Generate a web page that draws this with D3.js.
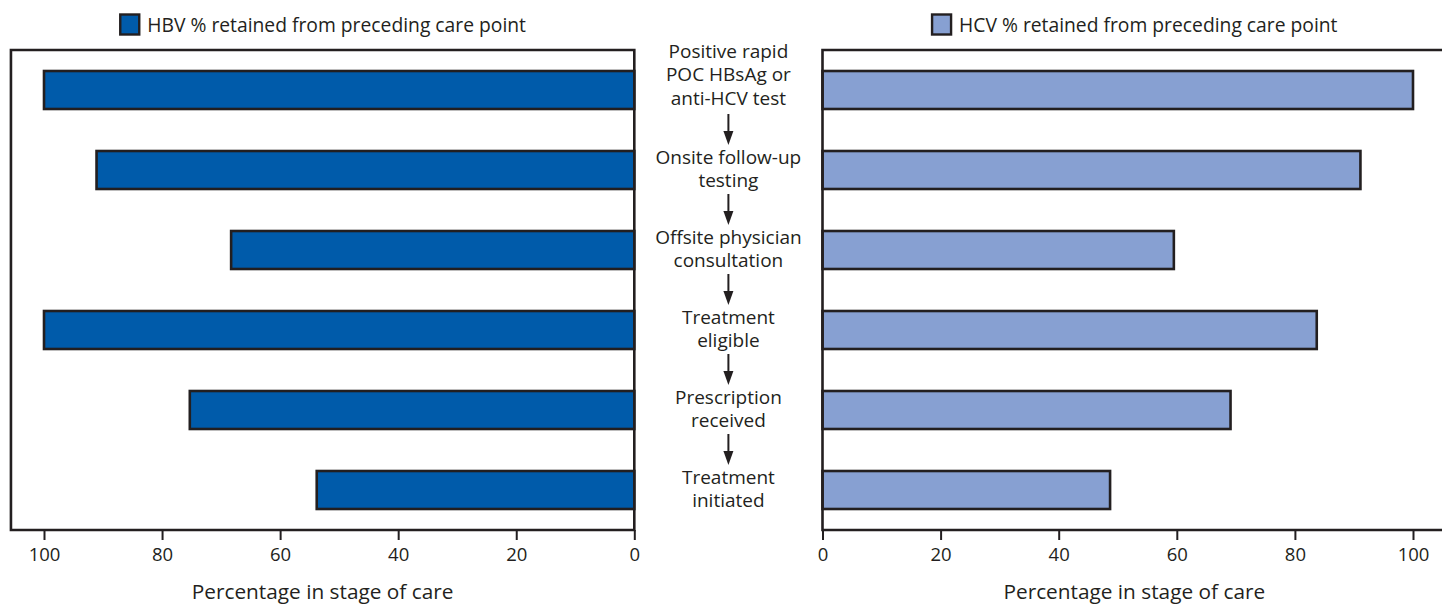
<!DOCTYPE html>
<html>
<head>
<meta charset="utf-8">
<script src="https://cdn.jsdelivr.net/npm/d3@7"></script>
<style>
  html, body { margin: 0; padding: 0; background: #fff; overflow: hidden; }
  svg { display: block; }
  text { font-family: "Open Sans", "Noto Sans", sans-serif; fill: #231f20; }
</style>
</head>
<body>
<svg id="chart" width="1442" height="607"></svg>
<script>
// ---- data ----
const stages = [
  ["Positive rapid", "POC HBsAg or", "anti-HCV test"],
  ["Onsite follow-up", "testing"],
  ["Offsite physician", "consultation"],
  ["Treatment", "eligible"],
  ["Prescription", "received"],
  ["Treatment", "initiated"]
];
const hbvValues = [100, 91.1, 68.3, 100, 75.3, 53.8];
const hcvValues = [100, 91.1, 59.5, 83.7, 69.1, 48.7];
const tickValues = [0, 20, 40, 60, 80, 100];
const hbvLegend = "HBV % retained from preceding care point";
const hcvLegend = "HCV % retained from preceding care point";
const axisTitle = "Percentage in stage of care";

// ---- layout ----
const ink = "#231f20";
const hbvColor = "#005baa";
const hcvColor = "#87a0d2";
const plotTop = 50, plotBottom = 530;
const frameMax = 105.6;

const svg = d3.select("#chart");
const ids = stages.map((d, i) => i);
const y = d3.scaleBand().domain(ids).range([plotTop, plotBottom]).paddingInner(0.5).paddingOuter(0.25);

const xL = d3.scaleLinear().domain([0, 100]).range([634.3, 44]);
const xR = d3.scaleLinear().domain([0, 100]).range([822.5, 1413]);

function panel(x, values, color, legendText, closedOuter) {
  const g = svg.append("g");
  const xZero = x(0), xOuter = x(frameMax);
  // bars
  g.selectAll("rect.bar").data(values).enter().append("rect")
    .attr("class", "bar")
    .attr("x", d => Math.min(x(0), x(d)))
    .attr("width", d => Math.abs(x(d) - x(0)))
    .attr("y", (d, i) => y(i) + 1)
    .attr("height", y.bandwidth() - 2)
    .attr("fill", color)
    .attr("stroke", ink)
    .attr("stroke-width", 2.6);
  // frame
  const p = d3.path();
  p.moveTo(xOuter, plotTop);
  p.lineTo(xZero, plotTop);
  p.lineTo(xZero, plotBottom);
  p.lineTo(xOuter, plotBottom);
  if (closedOuter) p.closePath();
  g.append("path").attr("d", p.toString())
    .attr("fill", "none").attr("stroke", ink).attr("stroke-width", 2.6)
    .attr("stroke-linejoin", "miter");
  // axis
  const ax = g.append("g").attr("transform", `translate(0,${plotBottom})`)
    .call(d3.axisBottom(x).tickValues(tickValues).tickSize(10).tickPadding(8).tickFormat(d3.format("d")));
  ax.select(".domain").remove();
  ax.selectAll(".tick line").attr("stroke", ink).attr("stroke-width", 2);
  ax.selectAll(".tick text").attr("fill", ink).style("font-size", "18.5px")
    .style("font-family", '"Open Sans", sans-serif');
  // axis title
  const cx = (xZero + xOuter) / 2;
  g.append("text").attr("x", cx).attr("y", 599).attr("text-anchor", "middle")
    .style("font-size", "20.8px").text(axisTitle);
  // legend
  const lg = g.append("g");
  const lt = lg.append("text").attr("x", 28).attr("y", 31.5).style("font-size", "19.3px").text(legendText);
  const w = lt.node().getComputedTextLength();
  lg.append("rect").attr("x", 1).attr("y", 14.5).attr("width", 19).attr("height", 20)
    .attr("fill", color).attr("stroke", ink).attr("stroke-width", 2.4);
  const total = 28 + w;
  lg.attr("transform", `translate(${cx - total / 2},0)`);
}

panel(xL, hbvValues, hbvColor, hbvLegend, true);
panel(xR, hcvValues, hcvColor, hcvLegend, false);

// centre labels and arrows
const midX = (xL(0) + xR(0)) / 2;
const lineH = 23.5;
const lab = svg.append("g");
stages.forEach((lines, i) => {
  const c = y(i) + y.bandwidth() / 2;
  const n = lines.length;
  const blockCenter = c - (n - 2) * 14.5;
  const t = lab.append("text").attr("text-anchor", "middle").style("font-size", "19px");
  lines.forEach((ln, j) => {
    const yy = blockCenter + (j - (n - 1) / 2) * lineH;
    t.append("tspan").attr("x", midX).attr("y", yy + 5.5).text(ln);
  });
  if (i < stages.length - 1) {
    const m = (c + y(i + 1) + y.bandwidth() / 2) / 2;
    lab.append("line").attr("x1", midX).attr("x2", midX)
      .attr("y1", m - 16).attr("y2", m + 2)
      .attr("stroke", ink).attr("stroke-width", 2);
    lab.append("path")
      .attr("d", `M${midX - 5},${m + 1}L${midX + 5},${m + 1}L${midX},${m + 15}Z`)
      .attr("fill", ink);
  }
});
</script>
</body>
</html>
